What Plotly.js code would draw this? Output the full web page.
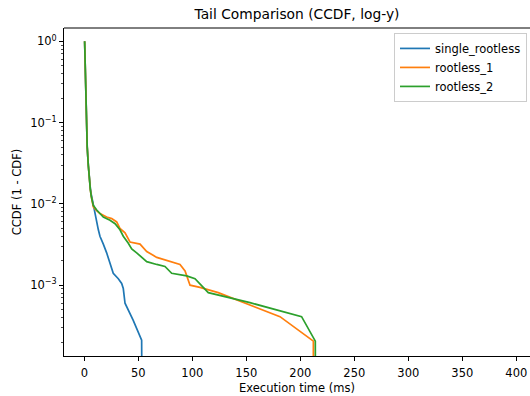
<!DOCTYPE html>
<html>
<head>
<meta charset="utf-8">
<script src="https://cdn.plot.ly/plotly-3.0.1.min.js"></script>
<style>html,body{margin:0;padding:0;overflow:hidden;background:#fff;}</style>
</head>
<body>
<div id="chart" style="width:530px;height:396px;"></div>
<script>
// Execution time (ms) and CCDF values
const singleX = [0.3, 0.8, 1.3, 2.0, 2.7, 3.7, 4.7, 5.6, 6.5, 7.6, 8.3, 9.9, 11.5, 13.0, 14.5, 16.1, 17.6, 20.7, 23.8, 26.8, 31.5, 34.6, 36.1, 37.1, 37.7, 45.3, 51.6, 53.1, 53.8];
const singleY = [1.0, 0.5, 0.2, 0.09, 0.05, 0.03, 0.0195, 0.0155, 0.013, 0.0108, 0.0095, 0.0076, 0.0057, 0.0048, 0.0040, 0.0036, 0.0032, 0.0025, 0.0019, 0.0014, 0.0012, 0.00105, 0.00091, 0.0007, 0.0006, 0.00037, 0.00023, 0.00021, 1e-6];

const r1X = [0.3, 0.8, 1.3, 2.0, 2.7, 3.7, 4.7, 5.6, 6.5, 8.3, 11.2, 14.5, 20.7, 25.4, 30.0, 33.0, 37.7, 42.3, 51.6, 57.8, 67.1, 77.7, 88.6, 93.3, 97.9, 107.1, 124.0, 181.2, 212.1, 212.1];
const r1Y = [1.0, 0.5, 0.2, 0.09, 0.05, 0.03, 0.0195, 0.015, 0.0123, 0.0092, 0.0083, 0.0076, 0.0069, 0.0066, 0.006, 0.005, 0.0044, 0.0034, 0.0032, 0.0026, 0.0022, 0.002, 0.0018, 0.0015, 0.001, 0.00094, 0.00081, 0.00041, 0.000205, 1e-6];

const r2X = [0.3, 0.8, 1.3, 2.0, 2.7, 3.7, 4.7, 5.6, 6.5, 8.3, 11.5, 17.6, 23.8, 28.5, 33.0, 36.1, 40.6, 43.9, 48.5, 57.8, 67.1, 74.7, 80.9, 94.8, 102.5, 114.8, 153.4, 201.2, 213.9, 214.4];
const r2Y = [1.0, 0.5, 0.2, 0.09, 0.05, 0.03, 0.0195, 0.015, 0.0123, 0.0096, 0.0084, 0.0069, 0.0063, 0.0057, 0.0048, 0.0040, 0.0033, 0.0028, 0.0025, 0.00195, 0.0018, 0.0017, 0.0014, 0.0013, 0.0012, 0.00081, 0.00061, 0.00041, 0.000205, 1e-6];

const seriesNames = ["single_rootless", "rootless_1", "rootless_2"];
const xTicks = [0, 50, 100, 150, 200, 250, 300, 350, 400];
const yTickVals = [1, 0.1, 0.01, 0.001];
const yTickText = ["10<sup>0</sup>", "10<sup>−1</sup>", "10<sup>−2</sup>", "10<sup>−3</sup>"];
const yMinorTicks = [
  0.2, 0.3, 0.4, 0.5, 0.6, 0.7, 0.8, 0.9,
  0.02, 0.03, 0.04, 0.05, 0.06, 0.07, 0.08, 0.09,
  0.002, 0.003, 0.004, 0.005, 0.006, 0.007, 0.008, 0.009,
  0.0002, 0.0003, 0.0004, 0.0005, 0.0006, 0.0007, 0.0008, 0.0009
];

const colors = ["#1f77b4", "#ff7f0e", "#2ca02c"];
const font = "DejaVu Sans, sans-serif";

const traces = [[singleX, singleY], [r1X, r1Y], [r2X, r2Y]].map((d, i) => ({
  x: d[0], y: d[1], type: "scatter", mode: "lines", name: seriesNames[i],
  line: {color: colors[i], width: 1.7}
}));

const layout = {
  width: 530, height: 396,
  margin: {l: 64, r: 0, t: 28, b: 40},
  paper_bgcolor: "#fff", plot_bgcolor: "#fff",
  font: {family: font, size: 11.5, color: "#000"},
  title: {text: "Tail Comparison (CCDF, log-y)", font: {family: font, size: 13.8, color: "#000"},
          x: 0.5, xref: "paper", y: 0.965, yref: "container", xanchor: "center", yanchor: "middle"},
  xaxis: {
    range: [-18.8, 412.7], showgrid: false, zeroline: false,
    showline: true, linecolor: "#000", linewidth: 1,
    ticks: "outside", ticklen: 4, tickwidth: 1, tickcolor: "#000",
    tickvals: xTicks, ticktext: xTicks.map(String),
    ticklabeloverflow: "allow", ticklabelstandoff: 2,
    title: {text: "Execution time (ms)", font: {family: font, size: 11.5, color: "#000"}, standoff: 5}
  },
  yaxis: {
    type: "log", range: [-3.871, 0.164], showgrid: false, zeroline: false,
    showline: true, linecolor: "#000", linewidth: 1,
    ticks: "outside", ticklen: 4, tickwidth: 1, tickcolor: "#000",
    tickvals: yTickVals, ticktext: yTickText,
    minor: {tickvals: yMinorTicks, ticks: "outside", ticklen: 2, tickwidth: 0.7, tickcolor: "#000", showgrid: false},
    title: {text: "CCDF (1 - CDF)", font: {family: font, size: 11.5, color: "#000"}, standoff: 6}
  },
  shapes: [{type: "line", xref: "paper", yref: "paper", x0: 0, x1: 1, y0: 1, y1: 1, line: {color: "#000", width: 1}}],
  legend: {
    x: 0.9936, y: 0.985, xanchor: "right", yanchor: "top",
    bgcolor: "rgba(255,255,255,0.8)", bordercolor: "#cccccc", borderwidth: 1,
    font: {family: font, size: 11.5, color: "#000"}
  },
  showlegend: true
};

Plotly.newPlot("chart", traces, layout, {displayModeBar: false, staticPlot: true});
</script>
</body>
</html>
